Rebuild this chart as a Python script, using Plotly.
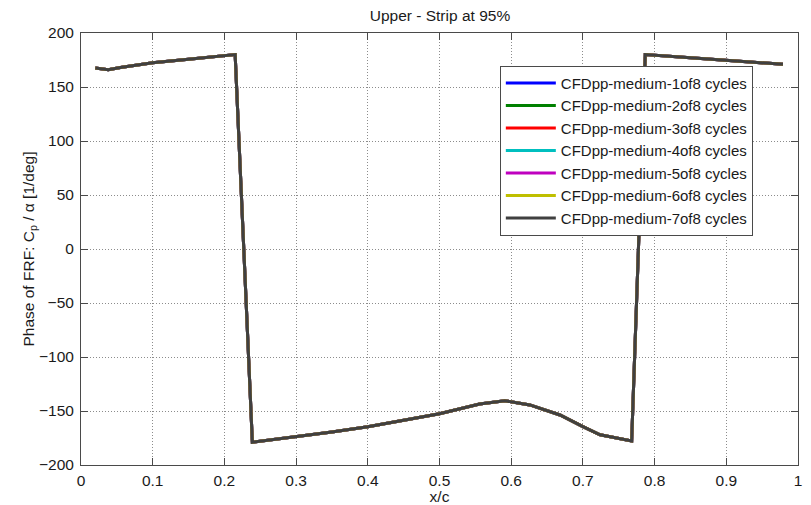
import plotly.graph_objects as go

# Chordwise stations and FRF phase values (deg) at the 95% strip, upper surface
x_c = [0.020, 0.038, 0.055, 0.100, 0.150, 0.215, 0.239, 0.270, 0.300, 0.350,
       0.400, 0.450, 0.500, 0.556, 0.591, 0.626, 0.668, 0.700, 0.724, 0.768,
       0.787, 0.850, 0.900, 0.950, 0.979]
phase = [167.5, 166.0, 168.0, 172.5, 175.6, 180.0, -179.0, -176.5, -174.0, -169.5,
         -164.5, -158.5, -152.5, -143.5, -140.5, -144.4, -153.7, -164.5, -172.0, -177.8,
         180.0, 177.0, 174.5, 172.5, 171.0]

series_names = [f"CFDpp-medium-{i}of8 cycles" for i in range(1, 8)]
series_colors = ["#0000ff", "#008000", "#ff0000", "#00bfbf", "#bf00bf", "#bfbf00", "#404040"]

x_ticks = [0, 0.1, 0.2, 0.3, 0.4, 0.5, 0.6, 0.7, 0.8, 0.9, 1]
x_tick_labels = ["0", "0.1", "0.2", "0.3", "0.4", "0.5", "0.6", "0.7", "0.8", "0.9", "1"]
y_ticks = [-200, -150, -100, -50, 0, 50, 100, 150, 200]

fig = go.Figure()
for name, color in zip(series_names, series_colors):
    fig.add_trace(go.Scatter(
        x=x_c, y=phase, mode="lines", name=name,
        line=dict(color=color, width=3),
    ))

font_family = "Liberation Sans, Arial, sans-serif"
text_color = "#1a1a1a"
axis_common = dict(
    showline=True, linecolor="#4a4a4a", linewidth=1, mirror="ticks",
    ticks="inside", ticklen=7, tickcolor="#4a4a4a",
    showgrid=True, gridcolor="#8c8c8c", griddash="1px,2px", gridwidth=1,
    zeroline=False, automargin=False,
    tickfont=dict(size=15.5, color=text_color, family=font_family),
)

fig.update_layout(
    width=811, height=505,
    margin=dict(l=81, r=13, t=33, b=40),
    paper_bgcolor="white", plot_bgcolor="white",
    font=dict(family=font_family, size=15.5, color=text_color),
    title=dict(text="Upper - Strip at 95%", x=0.5425, xanchor="center",
               y=0.97, yanchor="middle", font=dict(size=15.5, color=text_color)),
    xaxis=dict(range=[0, 1], tickvals=x_ticks, ticktext=x_tick_labels,
               ticklabelstandoff=1,
               title=dict(text="x/c", standoff=1, font=dict(size=15.5)),
               **axis_common),
    yaxis=dict(range=[-200, 200], tickvals=y_ticks, ticklabelstandoff=3,
               title=dict(text="Phase of FRF: C<sub>p</sub> / α [1/deg]",
                          standoff=0, font=dict(size=15.5)),
               **axis_common),
    legend=dict(x=0.937, xanchor="right", y=0.924, yanchor="top",
                bgcolor="white", bordercolor="#4a4a4a", borderwidth=1,
                font=dict(size=15, color=text_color), tracegroupgap=0,
                itemwidth=50),
    showlegend=True,
)

fig.write_html("out.html")
